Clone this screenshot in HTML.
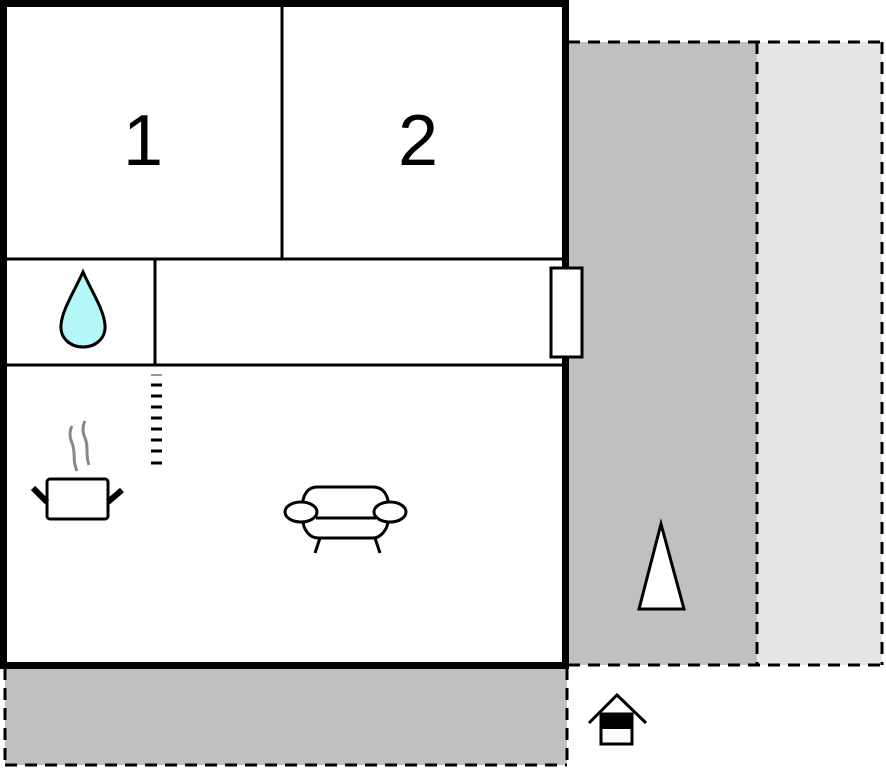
<!DOCTYPE html>
<html><head><meta charset="utf-8"><style>
html,body{margin:0;padding:0;background:#fff;width:886px;height:768px;overflow:hidden}
svg{display:block}
</style></head><body>
<svg width="886" height="768" viewBox="0 0 886 768" xmlns="http://www.w3.org/2000/svg">
<!-- outdoor areas -->
<rect x="568" y="42" width="189" height="623" fill="#c0c0c0"/>
<rect x="757" y="42" width="125" height="623" fill="#e6e6e6"/>
<rect x="5" y="668" width="562" height="97" fill="#c0c0c0"/>
<g stroke="#000" stroke-width="3" stroke-dasharray="12,8" fill="none">
<line x1="568" y1="42" x2="882" y2="42"/>
<line x1="882" y1="42" x2="882" y2="665"/>
<line x1="757" y1="42" x2="757" y2="665"/>
<line x1="568" y1="665" x2="882" y2="665"/>
<line x1="5" y1="668" x2="5" y2="765"/>
<line x1="5" y1="765" x2="567" y2="765"/>
<line x1="567" y1="668" x2="567" y2="765"/>
</g>
<!-- house -->
<rect x="3.5" y="3.5" width="562" height="662" fill="#fff" stroke="#000" stroke-width="7"/>
<g stroke="#000" stroke-width="3">
<line x1="282" y1="7" x2="282" y2="258"/>
<line x1="7" y1="259" x2="562" y2="259"/>
<line x1="7" y1="365" x2="562" y2="365"/>
<line x1="155" y1="259" x2="155" y2="364"/>
</g>
<rect x="551" y="268" width="31" height="89" fill="#fff" stroke="#000" stroke-width="3"/>
<text x="143" y="165" font-family="Liberation Sans, sans-serif" font-size="72" text-anchor="middle">1</text>
<text x="418" y="165" font-family="Liberation Sans, sans-serif" font-size="72" text-anchor="middle">2</text>
<!-- drop -->
<path d="M83,272 C92,292 104,310 105,325 C106,338 96,347 83,347 C70,347 60,338 61,325 C62,310 74,292 83,272 Z" fill="#b3f7f8" stroke="#000" stroke-width="3"/>
<!-- stairs -->
<g stroke="#000" stroke-width="3">
<line x1="151" y1="385" x2="162" y2="385"/><line x1="151" y1="396" x2="162" y2="396"/>
<line x1="151" y1="407" x2="162" y2="407"/><line x1="151" y1="418" x2="162" y2="418"/>
<line x1="151" y1="429" x2="162" y2="429"/><line x1="151" y1="440" x2="162" y2="440"/>
<line x1="151" y1="451" x2="162" y2="451"/><line x1="151" y1="463" x2="162" y2="463"/>
</g>
<line x1="151" y1="375" x2="162" y2="375" stroke="#999" stroke-width="2"/>
<!-- pot -->
<g fill="none" stroke="#888" stroke-width="3">
<path d="M77,471 C72,460 76,452 72,443 C69,436 70,430 72,426"/>
<path d="M89,465 C85,455 89,447 85,438 C82,431 83,425 85,421"/>
</g>
<rect x="47" y="479" width="61" height="40" rx="3" fill="#fff" stroke="#000" stroke-width="3"/>
<line x1="33" y1="488" x2="47" y2="502" stroke="#000" stroke-width="6"/>
<line x1="122" y1="490" x2="108" y2="502" stroke="#000" stroke-width="6"/>
<!-- sofa -->
<g fill="#fff" stroke="#000" stroke-width="3">
<path d="M317,487 L373,487 C384,487 390,497 388,510 L388,520 C388,530 380,538 373,538 L318,538 C310,538 303,530 303,520 L303,510 C301,497 307,487 317,487 Z"/>
<ellipse cx="301" cy="512" rx="16" ry="10"/>
<ellipse cx="390" cy="512" rx="16" ry="10"/>
<line x1="316" y1="518" x2="376" y2="518"/>
<line x1="320" y1="538" x2="315" y2="553"/>
<line x1="375" y1="538" x2="380" y2="553"/>
</g>
<!-- tree triangle -->
<polygon points="661,524 684,609 639,609" fill="#fff" stroke="#000" stroke-width="3"/>
<!-- home icon -->
<polyline points="589,723 617,695 646,723" fill="none" stroke="#000" stroke-width="3"/>
<rect x="601" y="714" width="31" height="30" fill="#fff" stroke="#000" stroke-width="3"/>
<rect x="601" y="714" width="31" height="15" fill="#000"/>
</svg>
</body></html>
